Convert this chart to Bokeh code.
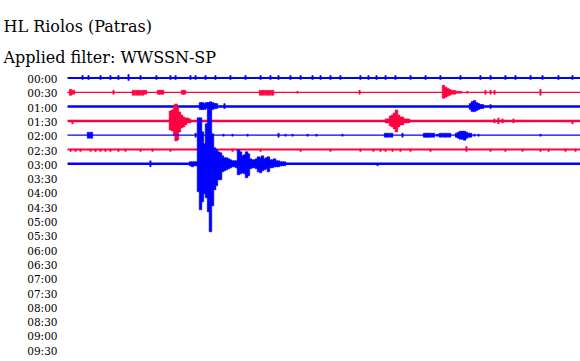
from bokeh.plotting import figure
from bokeh.models import Range1d, ColumnDataSource
from bokeh.core.properties import value
from bokeh.embed import file_html
from bokeh.resources import INLINE

# ---------------- data ----------------
STATION = "HL Riolos (Patras)"
FILTER_TEXT = "Applied filter: WWSSN-SP"

ROW_LABELS = ["00:00", "00:30", "01:00", "01:30", "02:00", "02:30", "03:00",
              "03:30", "04:00", "04:30", "05:00", "05:30", "06:00", "06:30",
              "07:00", "07:30", "08:00", "08:30", "09:00", "09:30", "10:00"]

TRACE_COLORS = ["#0000ff", "#ff0040", "#0000ff", "#ff0040", "#0000ff", "#ff0040", "#0000ff"]
TRACE_WIDTHS = [2, 1.2, 2.5, 2.5, 1.2, 2, 2.5]

ROW_MINUTES = 30

# events per trace: minute after row start, amplitude up, amplitude down
ROW0_T = [0.88, 1.23, 1.93, 2.51, 2.98, 3.57, 4.27, 5.20, 6.02, 6.32, 7.19, 7.49, 8.07, 8.65,
          9.53, 10.41, 11.29, 11.87, 12.34, 13.04, 13.63, 14.33, 14.80, 15.38, 15.96, 17.13,
          17.60, 18.07, 18.60, 19.18, 20.06, 20.94, 21.81, 22.98, 24.15, 24.74, 25.61, 26.20,
          27.08, 27.78, 28.71, 29.53]
ROW0_UP = [2.5] * 5 + [3.5] + [2.5] * 36
ROW0_DN = [1.5] * 5 + [2.5] + [1.5] * 36

ROW1_T = [0.18, 0.35, 2.69, 3.86, 4.04, 4.21, 4.39, 4.56, 5.32, 5.44, 5.56, 6.73, 6.84,
          11.29, 11.46, 11.64, 11.81, 11.99, 13.45, 17.08, 21.99, 22.11, 22.22, 22.34, 22.46,
          22.63, 22.81, 22.98, 23.39, 24.44, 24.74, 24.97, 27.66]
ROW1_UP = [3, 2, 2, 2, 2, 2, 2, 2, 2, 2, 2, 2, 2,
           2, 2, 2, 2, 2, 1, 2, 7, 5, 4, 3, 2,
           2, 1, 1, 1, 2, 2, 2, 3]
ROW1_DN = [3, 2, 2, 3, 3, 3, 3, 2, 2, 2, 2, 2, 2,
           3, 3, 3, 3, 3, 1, 2, 6, 5, 4, 3, 2,
           2, 1, 1, 1, 2, 2, 2, 3]

ROW2_T = [7.78, 7.89, 8.01, 8.13, 8.25, 8.36, 8.48, 8.60, 8.71, 9.18,
          23.57, 23.68, 23.80, 23.92, 24.04, 24.15, 24.27, 24.74]
ROW2_UP = [4, 4, 3, 4, 4, 3, 4, 3, 3, 3, 3, 5, 6, 4, 3, 2, 2, 2]
ROW2_DN = [3, 3, 3, 2, 3, 3, 3, 2, 2, 2, 3, 5, 5, 4, 3, 2, 2, 2]

ROW3_T = [0.29, 6.02, 6.14, 6.26, 6.35, 6.43, 6.55, 6.67, 6.78, 6.90, 7.02, 7.13,
          18.65, 18.77, 18.89, 19.01, 19.12, 19.24, 19.36, 19.47, 19.59, 19.71, 19.82, 19.94,
          24.97, 25.20, 25.44, 26.08, 29.53]
ROW3_UP = [0, 10, 11, 16, 17, 14, 9, 6, 4, 3, 3, 2,
           2, 2, 5, 6, 8, 11, 6, 4, 4, 2, 2, 2,
           2, 3, 2, 2, 0]
ROW3_DN = [3, 9, 10, 14, 20, 19, 11, 7, 6, 4, 2, 2,
           2, 2, 5, 6, 8, 11, 6, 4, 4, 2, 2, 2,
           2, 3, 2, 2, 3]

ROW4_T = [1.23, 1.40, 7.49, 9.12, 9.65, 10.53, 12.34, 12.75, 13.16, 14.04, 14.56, 16.08,
          18.60, 18.77, 18.95, 19.59, 20.88, 20.99, 21.11, 21.23, 21.40, 21.64, 21.81, 21.99,
          22.16, 22.34, 22.75, 22.87, 22.98, 23.10, 23.22, 23.33, 23.45, 23.57, 23.80, 24.04, 27.66]
ROW4_UP = [3, 3, 2, 1, 1, 1, 2, 1, 1, 1, 1, 1,
           2, 2, 2, 2, 2, 2, 2, 2, 2, 1, 2, 2,
           2, 2, 2, 3, 4, 4, 4, 3, 2, 2, 1, 1, 1]
ROW4_DN = [3, 3, 2, 1, 1, 1, 2, 1, 1, 1, 1, 1,
           2, 2, 2, 2, 2, 2, 2, 2, 2, 1, 2, 2,
           2, 2, 2, 3, 4, 4, 5, 3, 2, 2, 1, 1, 1]

ROW5_T = [0.18, 0.47, 0.76, 1.35, 1.64, 1.93, 2.22, 2.51, 2.98, 3.39, 4.27, 4.97, 6.02,
          7.78, 9.65, 11.29, 13.63, 15.38, 17.13, 17.89, 18.30, 18.60, 19.01, 19.47, 20.06,
          21.23, 23.33, 24.74, 25.61, 26.61, 27.66, 28.13, 29.12, 29.71]
ROW5_UP = [0.5] * 26 + [3] + [0.5] * 7
ROW5_DN = [2] * 34

ROW6_T = [4.85, 7.19, 7.31, 7.43, 7.54, 7.66, 7.78, 7.89, 8.01, 8.13, 8.25, 8.36, 8.48,
          8.60, 8.71, 8.83, 8.95, 9.06, 9.18, 9.30, 9.42, 9.53, 9.65, 9.77, 9.88, 10.00,
          10.12, 10.23, 10.35, 10.47, 10.58, 10.70, 10.82, 10.94, 11.05, 11.17, 11.29, 11.40,
          11.52, 11.64, 11.75, 11.87, 11.99, 12.11, 12.22, 12.34, 12.46, 12.57, 12.69, 18.13]
ROW6_UP = [3, 2, 2, 2, 2, 46, 46, 32, 20, 40, 54, 62, 30,
           16, 14, 12, 11, 8, 6, 6, 5, 4, 3, 3, 3, 14,
           12, 8, 9, 12, 10, 5, 4, 4, 5, 7, 6, 8,
           5, 6, 7, 4, 4, 5, 3, 3, 2, 2, 2, 0]
ROW6_DN = [3, 2, 3, 2, 2, 28, 46, 38, 30, 34, 48, 68, 42,
           26, 22, 16, 16, 8, 7, 6, 5, 4, 3, 3, 4, 11,
           10, 9, 10, 14, 12, 5, 4, 4, 5, 8, 9, 7,
           6, 5, 8, 4, 4, 3, 3, 3, 2, 2, 2, 2]

ROWS_T = [ROW0_T, ROW1_T, ROW2_T, ROW3_T, ROW4_T, ROW5_T, ROW6_T]
ROWS_UP = [ROW0_UP, ROW1_UP, ROW2_UP, ROW3_UP, ROW4_UP, ROW5_UP, ROW6_UP]
ROWS_DN = [ROW0_DN, ROW1_DN, ROW2_DN, ROW3_DN, ROW4_DN, ROW5_DN, ROW6_DN]

# ---------------- layout ----------------
W, H = 580, 361
TRACE_LEFT_PX = 67
PX_PER_MIN = (W - TRACE_LEFT_PX) / ROW_MINUTES
ROW0_PX = 77.5
ROW_GAP = 14.3          # vertical units == pixels
BURST_W = 2.7 / PX_PER_MIN   # bars that touch a neighbour
TICK_W = 1.4 / PX_PER_MIN    # isolated ticks
NEIGHBOUR = 0.2              # minutes

def xd(px):
    return (px - TRACE_LEFT_PX) / PX_PER_MIN

def yd(py):
    return ROW0_PX - py

def bar_widths(ts):
    out = []
    for k, t in enumerate(ts):
        near = any(abs(t - o) < NEIGHBOUR for j, o in enumerate(ts) if j != k)
        out.append(BURST_W if near else TICK_W)
    return out

p = figure(width=W, height=H, output_backend="svg", toolbar_location=None,
           x_range=Range1d(xd(0), xd(W)), y_range=Range1d(yd(H), yd(0)),
           x_axis_location=None, y_axis_location=None, min_border=0)
p.grid.visible = False
p.outline_line_color = None
p.background_fill_color = "white"
p.border_fill_color = "white"

for i, (ts, ups, dns) in enumerate(zip(ROWS_T, ROWS_UP, ROWS_DN)):
    base = -i * ROW_GAP
    col = TRACE_COLORS[i]
    p.segment(x0=[0], x1=[ROW_MINUTES], y0=[base], y1=[base],
              line_color=col, line_width=TRACE_WIDTHS[i])
    src = ColumnDataSource(dict(x=ts, top=[base + u for u in ups],
                                bottom=[base - d for d in dns],
                                w=bar_widths(ts)))
    p.vbar(x="x", top="top", bottom="bottom", width="w", source=src,
           fill_color=col, line_color=col, line_width=0.5)

lab_src = ColumnDataSource(dict(
    x=[xd(57)] * len(ROW_LABELS),
    y=[-i * ROW_GAP - 1.0 for i in range(len(ROW_LABELS))],
    text=ROW_LABELS))
p.text(x="x", y="y", text="text", source=lab_src, text_font=value("DejaVu Serif"),
       text_font_size="10.5px", text_align="right", text_baseline="middle",
       text_color="black")

p.text(x=[xd(3)], y=[yd(26)], text=[STATION], text_font=value("DejaVu Serif"),
       text_font_size="16px", text_align="left", text_baseline="alphabetic",
       text_color="black")
p.text(x=[xd(3)], y=[yd(57)], text=[FILTER_TEXT], text_font=value("DejaVu Serif"),
       text_font_size="16px", text_align="left", text_baseline="alphabetic",
       text_color="black")

open("out.html", "w").write(file_html(p, INLINE))
